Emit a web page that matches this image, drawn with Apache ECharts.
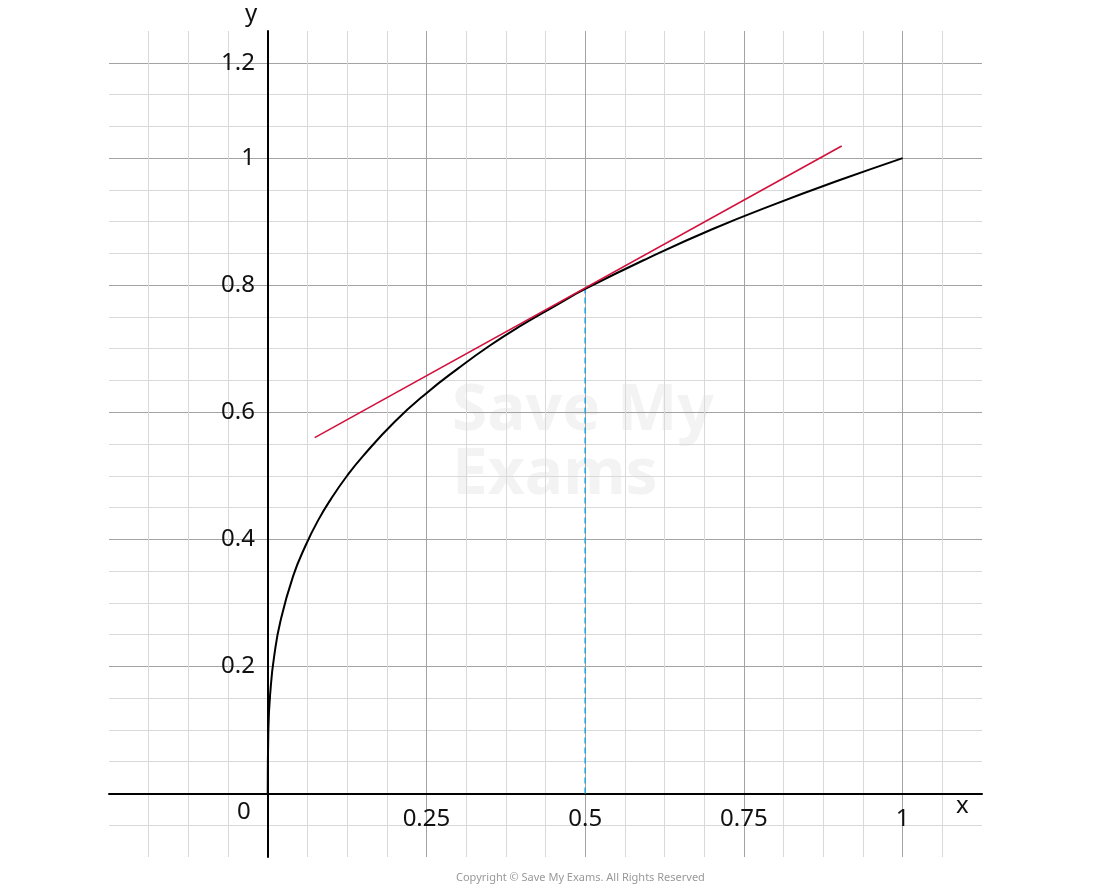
<!DOCTYPE html>
<html><head><meta charset="utf-8">
<script src="https://cdn.jsdelivr.net/npm/echarts@6/dist/echarts.min.js"></script>
<style>html,body{margin:0;padding:0;background:#fff}#c{width:1100px;height:891px}</style>
</head><body><div id="c"></div>
<script>
const curveX = [0, 0.001, 0.005, 0.01, 0.02, 0.04, 0.06, 0.08, 0.1, 0.125, 0.15, 0.2, 0.25, 0.3, 0.35, 0.4, 0.45, 0.5, 0.6, 0.7, 0.8, 0.9, 1];
const curveY = [0, 0.1, 0.171, 0.215, 0.271, 0.342, 0.391, 0.431, 0.464, 0.5, 0.531, 0.585, 0.63, 0.669, 0.705, 0.737, 0.766, 0.794, 0.843, 0.888, 0.928, 0.965, 1];
const tangentX = [0.074, 0.904];
const tangentY = [0.56, 1.019];
const dashX = [0.5, 0.5];
const dashY = [0, 0.794];
const xTickLabels = {'0.25':'0.25','0.5':'0.5','0.75':'0.75','1':'1'};
const yTickLabels = {'0.2':'0.2','0.4':'0.4','0.6':'0.6','0.8':'0.8','1':'1','1.15':'1.2'};

const MAJ='#a3a3a3', MIN='#d9d9d9', NONE='rgba(0,0,0,0)';
const xColors=[]; for(let i=0;i<=22;i++){xColors.push(i===0||i===22?NONE:(i%4===0?MAJ:MIN));}
const yColors=[]; for(let i=0;i<=26;i++){let c=(i%4===2)?MAJ:MIN; if(i===0||i===26)c=NONE; if(i===25)c=MAJ; if(i===24)c=MIN; yColors.push(c);}
const zip=(a,b)=>a.map((v,i)=>[v,b[i]]);
const font='"Noto Sans", sans-serif';
const chart=echarts.init(document.getElementById('c'));
chart.setOption({
  animation:false,
  grid:{left:109,right:118,top:31,bottom:34},
  xAxis:{type:'value',min:-0.25,max:1.125,interval:0.0625,
    axisLine:{onZero:true,lineStyle:{color:'#000',width:2}},axisTick:{show:false},
    splitLine:{show:true,lineStyle:{color:xColors,width:1}},
    axisLabel:{margin:-50,fontSize:24,color:'#111',fontFamily:font,
      formatter:v=>{const k=String(Math.round(v*10000)/10000);return xTickLabels[k]||'';}}},
  yAxis:{type:'value',min:-0.1,max:1.2,interval:0.05,
    axisLine:{onZero:true,lineStyle:{color:'#000',width:2}},axisTick:{show:false},
    splitLine:{show:true,lineStyle:{color:yColors,width:1}},
    axisLabel:{margin:-146,fontSize:24,color:'#111',fontFamily:font,
      formatter:v=>{const k=String(Math.round(v*100)/100);return yTickLabels[k]||'';}}},
  graphic:[
    {type:'text',left:452,top:380,z:-1,style:{text:'Save My\nExams',fontSize:64,fontWeight:'bold',fill:'#f3f3f3',fontFamily:font,lineHeight:64}},
    {type:'text',left:237,top:800,style:{text:'0',fontSize:24,fill:'#111',fontFamily:font}},
    {type:'text',left:956,top:794,style:{text:'x',fontSize:24,fill:'#111',fontFamily:font}},
    {type:'text',left:245,top:2,style:{text:'y',fontSize:24,fill:'#111',fontFamily:font}},
    {type:'text',left:456,top:872,style:{text:'Copyright © Save My Exams. All Rights Reserved',fontSize:11,fill:'#999',fontFamily:font}}
  ],
  series:[
    {type:'line',data:zip(curveX,curveY),smooth:true,symbol:'none',lineStyle:{color:'#000',width:2},z:3},
    {type:'line',data:zip(tangentX,tangentY),symbol:'none',lineStyle:{color:'#d2103c',width:1.6},z:4},
    {type:'line',data:zip(dashX,dashY),symbol:'none',lineStyle:{color:'#2aa6de',width:1.6,type:[6,4]},z:2}
  ]
});
</script></body></html>
